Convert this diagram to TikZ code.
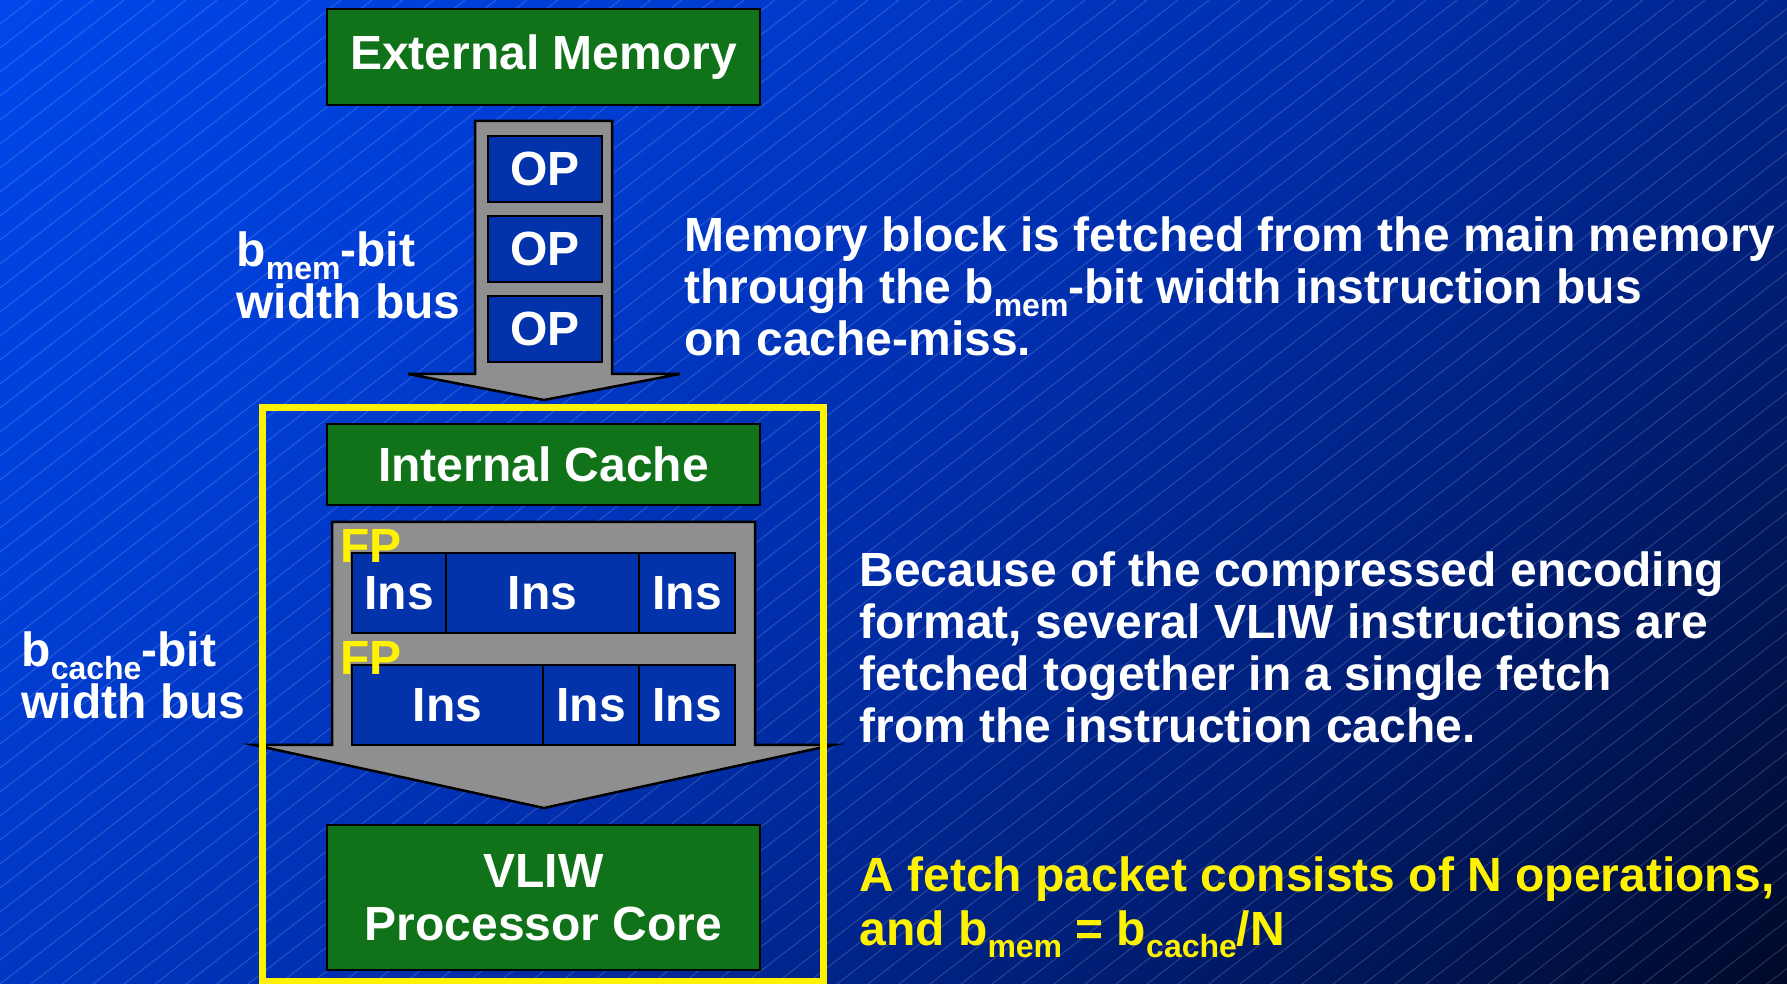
\documentclass[tikz,border=0pt]{standalone}
\usepackage{fontspec}
\setmainfont{Liberation Sans}
\usetikzlibrary{calc}

% slide background and part colours
\definecolor{bgA}{HTML}{0046EA}
\definecolor{bgB}{HTML}{003DD2}
\definecolor{bgC}{HTML}{002EAC}
\definecolor{bgD}{HTML}{001D72}
\definecolor{bgE}{HTML}{00092A}
\definecolor{boxgreen}{HTML}{107219}
\definecolor{opblue}{HTML}{0333AA}
\definecolor{busgray}{HTML}{8F8F8F}

\pgfdeclarehorizontalshading{slidebg}{100bp}{color(0bp)=(bgA); color(14.6bp)=(bgA); color(32bp)=(bgB); color(50bp)=(bgC); color(68bp)=(bgD); color(85.4bp)=(bgE); color(100bp)=(bgE)}

% lowered, smaller subscript as used for b_mem and b_cache
\newcommand\lowsub[1]{\raisebox{-0.27em}{\fontsize{12.8pt}{14pt}\selectfont #1}}

\tikzset{
  every node/.style={font=\fontsize{19.2pt}{21pt}\selectfont\bfseries},
  unitbox/.style={draw=black, line width=1pt, inner sep=0pt, text=white},
  greenbox/.style={unitbox, fill=boxgreen, minimum width=173.2pt},
  opbox/.style={unitbox, fill=opblue},
  insrow/.style={opbox, minimum height=32pt},
  bus/.style={fill=busgray, draw=black, line width=1pt, line join=miter},
  wtext/.style={inner sep=0pt, anchor=base west, text=white},
  ytext/.style={wtext, text=yellow},
  bgline/.style={white, opacity=0.16, line width=0.4pt},
}

\begin{document}
\begin{tikzpicture}[x=0.4pt,y=-0.4pt]
\useasboundingbox (0,0) rectangle (1787,984);

% background: diagonal gradient with fine hatching
\shade[shading=slidebg, shading angle=-45] (0,0) rectangle (1787,984);
\begin{scope}
  \clip (0,0) rectangle (1787,984);
  \foreach \i in {1,...,100}
    \draw[bgline] (0,{\i*24}) -- ({\i*31},0);
\end{scope}

% external memory and the memory bus
\node[greenbox, minimum height=38.4pt] (ext) at (543.5,57) {External Memory};
\draw[bus] (475,121) -- (612,121) -- (612,374) -- (680,374) -- (544,400)
           -- (408,374) -- (475,374) -- cycle;
\node[opbox, minimum width=45.6pt, minimum height=26.4pt] (op1) at (545,169) {OP};
\node[opbox, minimum width=45.6pt, minimum height=26.4pt] (op2) at (545,249) {OP};
\node[opbox, minimum width=45.6pt, minimum height=26.4pt] (op3) at (545,329) {OP};

% internal cache and the cache bus
\node[greenbox, minimum height=32.4pt] (cache) at (543.5,464.5) {Internal Cache};
\draw[bus] (332,522) -- (755,522) -- (755,745) -- (833,745) -- (544,808)
           -- (254,745) -- (332,745) -- cycle;

% processor chip boundary (drawn over the wing tips of the cache bus)
\node[draw=yellow, line width=2.8pt, inner sep=0pt, minimum width=224pt,
      minimum height=229.2pt] (chip) at (543,694.5) {};

% fetch packets
\node[insrow, minimum width=37.6pt] (c11) at (399,593) {Ins};
\node[insrow, minimum width=77.2pt] (c12) at (542.5,593) {Ins};
\node[insrow, minimum width=38.4pt] (c13) at (687,593) {Ins};
\node[insrow, minimum width=76.4pt] (c21) at (447.5,705) {Ins};
\node[insrow, minimum width=38.4pt] (c22) at (591,705) {Ins};
\node[insrow, minimum width=38.4pt] (c23) at (687,705) {Ins};
\node[ytext] (fp1) at (340,563) {FP};
\node[ytext] (fp2) at (340,675) {FP};

% processor core
\node[greenbox, minimum height=58pt, align=center] (core) at (543.5,897.5)
  {VLIW\\Processor Core};

% bus width labels
\node[wtext] (bm1) at (236,267) {b\lowsub{mem}-bit};
\node[wtext] (bm2) at (236,319) {width bus};
\node[wtext] (bc1) at (21,667) {b\lowsub{cache}-bit};
\node[wtext] (bc2) at (21,719) {width bus};

% explanations
\node[wtext] (m1) at (684,252) {Memory block is fetched from the main memory};
\node[wtext] (m2) at (684,304) {through the b\lowsub{mem}-bit width instruction bus};
\node[wtext] (m3) at (684,356) {on cache-miss.};

\node[wtext] (f1) at (859,587) {Because of the compressed encoding};
\node[wtext] (f2) at (859,639) {format, several VLIW instructions are};
\node[wtext] (f3) at (859,691) {fetched together in a single fetch};
\node[wtext] (f4) at (859,743) {from the instruction cache.};

\node[ytext] (n1) at (859,892) {A fetch packet consists of N operations,};
\node[ytext] (n2) at (859,945) {and b\lowsub{mem} = b\lowsub{cache}/N};
\end{tikzpicture}
\end{document}
